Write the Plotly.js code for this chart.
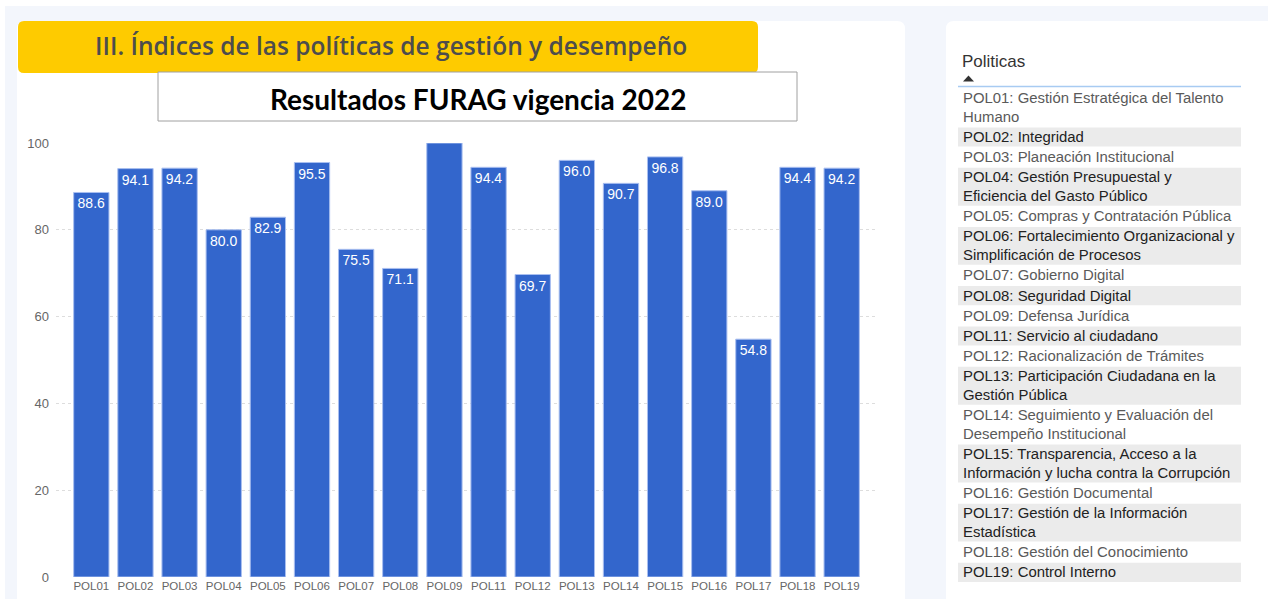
<!DOCTYPE html>
<html>
<head>
<meta charset="utf-8">
<script src="https://cdn.plot.ly/plotly-3.0.1.min.js"></script>
<style>
  html, body { margin: 0; padding: 0; background: #ffffff; }
  #chart { width: 1268px; height: 599px; }
</style>
</head>
<body>
<div id="chart"></div>
<script>
// data
var policyCodes = ['POL01', 'POL02', 'POL03', 'POL04', 'POL05', 'POL06', 'POL07', 'POL08', 'POL09',
                   'POL11', 'POL12', 'POL13', 'POL14', 'POL15', 'POL16', 'POL17', 'POL18', 'POL19'];
var policyScores = [88.6, 94.1, 94.2, 80.0, 82.9, 95.5, 75.5, 71.1, 100,
                    94.4, 69.7, 96.0, 90.7, 96.8, 89.0, 54.8, 94.4, 94.2];
var policyNames = [
    'POL01: Gestión Estratégica del Talento<br>Humano',
    'POL02: Integridad',
    'POL03: Planeación Institucional',
    'POL04: Gestión Presupuestal y<br>Eficiencia del Gasto Público',
    'POL05: Compras y Contratación Pública',
    'POL06: Fortalecimiento Organizacional y<br>Simplificación de Procesos',
    'POL07: Gobierno Digital',
    'POL08: Seguridad Digital',
    'POL09: Defensa Jurídica',
    'POL11: Servicio al ciudadano',
    'POL12: Racionalización de Trámites',
    'POL13: Participación Ciudadana en la<br>Gestión Pública',
    'POL14: Seguimiento y Evaluación del<br>Desempeño Institucional',
    'POL15: Transparencia, Acceso a la<br>Información y lucha contra la Corrupción',
    'POL16: Gestión Documental',
    'POL17: Gestión de la Información<br>Estadística',
    'POL18: Gestión del Conocimiento',
    'POL19: Control Interno'
];
var yTicks = [0, 20, 40, 60, 80, 100];
var sectionTitle = 'III. Índices de las políticas de gestión y desempeño';
var chartTitle = 'Resultados FURAG vigencia 2022';
var listTitle = 'Politicas';

// plot area in page pixels
var M = {l: 56, r: 391, t: 143, b: 22};
var PW = 1268 - M.l - M.r;
var PH = 599 - M.t - M.b;
function px(x) { return (x - M.l) / PW; }
function py(y) { return (599 - M.b - y) / PH; }

function roundRect(x0, y0, x1, y1, r) {
    var p = 'M' + px(x0 + r) + ',' + py(y0) +
        ' L' + px(x1 - r) + ',' + py(y0) +
        ' Q' + px(x1) + ',' + py(y0) + ' ' + px(x1) + ',' + py(y0 + r) +
        ' L' + px(x1) + ',' + py(y1 - r) +
        ' Q' + px(x1) + ',' + py(y1) + ' ' + px(x1 - r) + ',' + py(y1) +
        ' L' + px(x0 + r) + ',' + py(y1) +
        ' Q' + px(x0) + ',' + py(y1) + ' ' + px(x0) + ',' + py(y1 - r) +
        ' L' + px(x0) + ',' + py(y0 + r) +
        ' Q' + px(x0) + ',' + py(y0) + ' ' + px(x0 + r) + ',' + py(y0) + ' Z';
    return p;
}

function label(x, y, text, font, xanchor) {
    return {xref: 'paper', yref: 'paper', x: px(x), y: py(y), showarrow: false,
        xanchor: xanchor || 'center', yanchor: 'middle', align: 'left',
        borderpad: 0, text: text, font: font};
}

var shapes = [];
var annotations = [];

// page background and panels
shapes.push({type: 'rect', xref: 'paper', yref: 'paper', layer: 'below',
    x0: px(5), x1: px(1270), y0: py(6), y1: py(605), fillcolor: '#f3f6fc', line: {width: 0}});
shapes.push({type: 'path', xref: 'paper', yref: 'paper', layer: 'below',
    path: roundRect(17, 21, 905, 615, 8), fillcolor: '#ffffff', line: {width: 0}});
shapes.push({type: 'path', xref: 'paper', yref: 'paper', layer: 'below',
    path: roundRect(946, 21, 1285, 615, 8), fillcolor: '#ffffff', line: {width: 0}});

// yellow banner
shapes.push({type: 'path', xref: 'paper', yref: 'paper', layer: 'above',
    path: roundRect(18, 21, 758, 73, 6), fillcolor: '#fecb00', line: {width: 0}});
annotations.push(label(391, 46, sectionTitle,
    {family: 'Open Sans', size: 24.5, weight: 600, color: '#4d4d4d'}));

// subtitle box
shapes.push({type: 'rect', xref: 'paper', yref: 'paper', layer: 'above',
    x0: px(158), x1: px(797), y0: py(72), y1: py(121),
    fillcolor: '#ffffff', line: {color: '#a0a0a0', width: 1}});
annotations.push(label(478, 99, chartTitle,
    {family: 'Lato', size: 28, weight: 700, color: '#000000'}));

// side list
annotations.push(label(961, 62, listTitle,
    {family: 'Liberation Sans', size: 17, color: '#333333'}, 'left'));
shapes.push({type: 'path', xref: 'paper', yref: 'paper', layer: 'above',
    path: 'M' + px(963) + ',' + py(81.5) + ' L' + px(974) + ',' + py(81.5) +
          ' L' + px(968.5) + ',' + py(75.5) + ' Z',
    fillcolor: '#333333', line: {width: 0}});
shapes.push({type: 'line', xref: 'paper', yref: 'paper', layer: 'above',
    x0: px(958), x1: px(1241), y0: py(86.5), y1: py(86.5), line: {color: '#a8cbf2', width: 1.5}});

var rowTop = 88;
for (var i = 0; i < policyNames.length; i++) {
    var lines = policyNames[i].split('<br>').length;
    var h = lines * 18.7 + 1.5;
    var shaded = i % 2 === 1;
    if (shaded) {
        shapes.push({type: 'rect', xref: 'paper', yref: 'paper', layer: 'above',
            x0: px(958), x1: px(1241), y0: py(rowTop + 0.5), y1: py(rowTop + h - 0.5),
            fillcolor: '#ebebeb', line: {width: 0}});
    }
    annotations.push(label(962, rowTop + h / 2, policyNames[i],
        {family: 'Liberation Sans', size: 14.9, color: shaded ? '#222222' : '#5a5a5a'}, 'left'));
    rowTop += h;
}

var barLabels = policyScores.map(function (v) { return v >= 100 ? '' : v.toFixed(1); });

var data = [{
    type: 'bar',
    x: policyCodes,
    y: policyScores,
    text: barLabels,
    textposition: 'inside',
    insidetextanchor: 'end',
    textangle: 0,
    textfont: {family: 'Liberation Sans', size: 14, color: '#ffffff'},
    marker: {color: '#3366cc', line: {color: '#a9bff0', width: 1}},
    hoverinfo: 'x+y'
}];

var layout = {
    width: 1268,
    height: 599,
    margin: M,
    paper_bgcolor: '#ffffff',
    plot_bgcolor: 'rgba(0,0,0,0)',
    showlegend: false,
    bargap: 0.2,
    font: {family: 'Liberation Sans', color: '#666666'},
    xaxis: {
        type: 'category',
        range: [-0.8, 17.8],
        showgrid: false,
        showline: false,
        zeroline: false,
        ticks: '',
        tickfont: {family: 'Liberation Sans', size: 11.5, color: '#666666'}
    },
    yaxis: {
        range: [0, 100],
        tickvals: yTicks,
        showgrid: true,
        gridcolor: '#dddddd',
        griddash: 'dot',
        zeroline: false,
        showline: false,
        ticks: '',
        ticklabelstandoff: 6,
        tickfont: {family: 'Liberation Sans', size: 13, color: '#666666'}
    },
    shapes: shapes,
    annotations: annotations
};

Plotly.newPlot('chart', data, layout, {displayModeBar: false, staticPlot: true});
</script>
</body>
</html>
